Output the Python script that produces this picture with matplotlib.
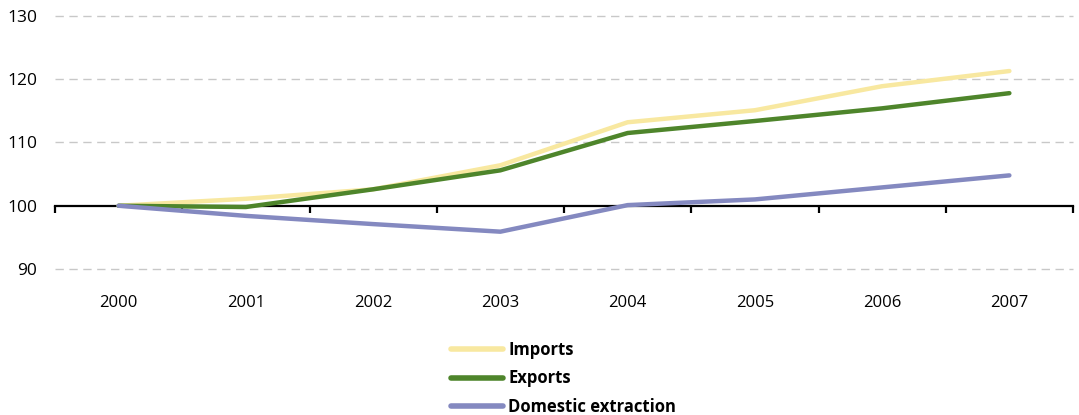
import matplotlib
matplotlib.use("Agg")
import matplotlib.pyplot as plt
import numpy as np

years = ["2000", "2001", "2002", "2003", "2004", "2005", "2006", "2007"]
imports = [100.0, 101.1, 102.6, 106.4, 113.2, 115.1, 118.9, 121.3]
exports = [100.0, 99.8, 102.6, 105.6, 111.5, 113.4, 115.4, 117.8]
domestic = [100.0, 98.4, 97.1, 95.9, 100.1, 101.0, 102.9, 104.8]
series_names = ["Imports", "Exports", "Domestic extraction"]
colors = ["#f8e8a0", "#4e852b", "#8489c0"]
y_ticks = [90, 100, 110, 120, 130]

plt.rcParams["font.family"] = ["Open Sans", "DejaVu Sans"]

fig = plt.figure(figsize=(10.79, 4.15), dpi=100)
ax = fig.add_axes([55 / 1079, 1 - 269 / 415, (1073 - 55) / 1079, (269 - 16) / 415])

x = np.arange(len(years))
for vals, name, c in zip([imports, exports, domestic], series_names, colors):
    ax.plot(x, vals, color=c, lw=3.2, label=name, solid_capstyle="round", zorder=3)

ax.set_xlim(-0.5, len(years) - 0.5)
ax.set_ylim(90, 130)

# dashed grid lines except at the 100 baseline
for yv in y_ticks:
    if yv != 100:
        ax.axhline(yv, color="#c8c8c8", lw=1.0, dashes=(6, 4), zorder=1, clip_on=False)

for side in ["top", "left", "right"]:
    ax.spines[side].set_visible(False)
ax.spines["bottom"].set_position(("data", 100))
ax.spines["bottom"].set_linewidth(1.6)
ax.spines["bottom"].set_zorder(2)

ax.set_xticks(np.arange(-0.5, len(years) + 0.5, 1.0))
ax.set_xticklabels([])
ax.tick_params(axis="x", direction="out", length=5, width=1.6, color="black")

ax.set_yticks(y_ticks)
ax.set_yticklabels([str(v) for v in y_ticks], fontsize=12.5)
ax.tick_params(axis="y", length=0, pad=13)

sec = ax.secondary_xaxis(0)
sec.set_xticks(x)
sec.set_xticklabels(years, fontsize=12)
sec.tick_params(length=0, pad=19)
sec.spines["bottom"].set_visible(False)

handles, labels = ax.get_legend_handles_labels()
leg = fig.legend(handles, labels, loc="upper left", bbox_to_anchor=(436 / 1079, 1 - 326 / 415),
                 frameon=False, handlelength=3.1, handletextpad=0.35, labelspacing=0.62,
                 prop={"weight": "bold", "size": 12})
for line in leg.get_lines():
    line.set_linewidth(4)

fig.savefig("out.png", dpi=100)
